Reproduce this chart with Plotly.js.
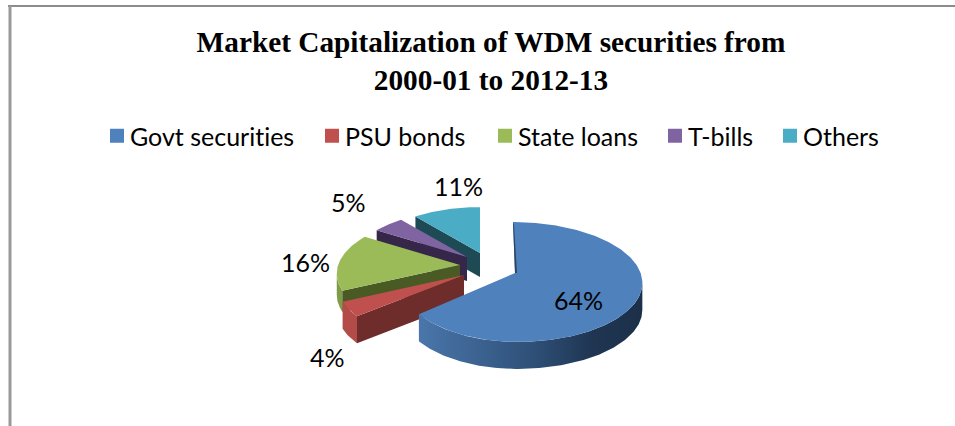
<!DOCTYPE html>
<html>
<head>
<meta charset="utf-8">
<script src="https://cdn.plot.ly/plotly-3.0.1.min.js"></script>
<style>
html,body{margin:0;padding:0;background:#fff;overflow:hidden}
text{font-variant-ligatures:none !important;font-feature-settings:"liga" 0,"clig" 0 !important}
</style>
</head>
<body>
<div id="chart" style="width:955px;height:426px"></div>
<script>
// Market capitalization shares, in percent
const categories = ["Govt securities", "PSU bonds", "State loans", "T-bills", "Others"];
const shares = [64, 4, 16, 5, 11];

const topColors = ["#4F81BD", "#C0504D", "#9BBB59", "#8064A2", "#4BACC6"];
const edgeColors = ["#2A4466", "#6E2C2A", "#4A5A25", "#35264A", "#1E4A55"];
const rimColors = ["#3B5F8C", "#B34B48", "#7F9A48", "#6A5386", "#3C8CA2"];

// Exploded-slice geometry, in pixels of the 955x426 canvas
const tipX = [515, 464, 460, 467, 480];
const tipY = [273, 275, 265, 257, 253];
const sliceScale = [1, 1, 0.97, 0.92, 0.9];
const leftScale = [0.91, 1, 1, 1, 1];
const sliceLean = [2, 0, 0, 0, 0];
const sliceDepth = [27, 27, 21, 24, 24];
const RX = 125.6, RY = 58.6, PERSP = 0.15;

const labelX = [578, 327, 305, 348, 458];
const labelY = [300, 357, 262, 202, 186];
const legendSwatchX = [110, 325, 498, 668, 783];

const FONT = "Lato, 'Open Sans', sans-serif";
const LABEL_SIZE = 25;

// Perspective projection of a rim point at a clockwise angle from the top
function rim(i, deg) {
  const a = deg * Math.PI / 180, p = 1 / (1 + PERSP * Math.cos(a)), s = sliceScale[i];
  const sx = Math.sin(a) < 0 ? leftScale[i] : 1;
  return [tipX[i] + s * sx * RX * Math.sin(a) * p - sliceLean[i] * Math.cos(a),
          tipY[i] - s * RY * Math.cos(a) * p];
}
function arc(i, from, to) {
  const pts = [], n = Math.max(2, Math.ceil(Math.abs(to - from)));
  for (let k = 0; k <= n; k++) pts.push(rim(i, from + (to - from) * k / n));
  return pts;
}
function poly(pts, color, extra) {
  return Object.assign({
    type: "scatter", mode: "lines", x: pts.map(p => p[0]), y: pts.map(p => p[1]),
    fill: "toself", fillcolor: color, line: { width: 0 }, hoverinfo: "skip", showlegend: false
  }, extra || {});
}

// Slice boundaries follow from the shares
const starts = [];
shares.reduce((sum, v, i) => { starts[i] = sum * 3.6; return sum + v; }, 0);
const ends = starts.map((s, i) => s + shares[i] * 3.6);

const traces = [];
// Far slices first so that nearer ones cover them
[4, 3, 2, 1, 0].forEach(i => {
  const tip = [tipX[i], tipY[i]], d = sliceDepth[i], down = p => [p[0], p[1] + d];
  if (i !== 0) {
    const a = rim(i, starts[i]);
    traces.push(poly([tip, a, down(a), down(tip)], edgeColors[i]));
  }
  // The curved wall only faces the viewer on the lower part of the rim
  const frontFrom = Math.acos(-PERSP) * 180 / Math.PI, frontTo = 360 - frontFrom;
  const from = Math.max(starts[i], frontFrom), to = Math.min(ends[i], frontTo);
  if (to > from) {
    const top = arc(i, from, to);
    const wall = top.concat(top.slice().reverse().map(down));
    const extra = i === 0 ? {
      fillgradient: { type: "horizontal", colorscale: [[0, "#4A76AB"], [0.5, "#2F5179"], [0.78, "#1F3552"], [1, "#1C3049"]] }
    } : {};
    traces.push(poly(wall, rimColors[i], extra));
  }
  traces.push(poly([tip].concat(arc(i, starts[i], ends[i])), topColors[i]));
  if (i === 0) {
    const a = rim(0, 0);
    traces.push(poly([a, tip, [tip[0] + 2, tip[1]], [a[0] + 1, a[1] + 3]], edgeColors[0]));
  }
});

// One square swatch per legend entry
categories.forEach((name, i) => {
  traces.push({
    type: "scatter", mode: "markers", x: [null], y: [null], name: name,
    marker: { symbol: "square", size: 14, color: topColors[i] },
    legend: i === 0 ? "legend" : "legend" + (i + 1), hoverinfo: "skip", showlegend: true
  });
});

const layout = {
  width: 955, height: 426,
  margin: { l: 0, r: 0, t: 0, b: 0 },
  paper_bgcolor: "#fff", plot_bgcolor: "#fff",
  showlegend: true,
  title: {
    text: "Market Capitalization of WDM securities from<br>2000-01 to 2012-13",
    font: { family: "'Liberation Serif', serif", size: 29.3, color: "#000", weight: "bold" },
    x: 491 / 955, xanchor: "center", y: 1 - 52 / 426, yanchor: "top"
  },
  xaxis: { range: [0, 955], visible: false, fixedrange: true },
  yaxis: { range: [426, 0], visible: false, fixedrange: true },
  shapes: [
    { type: "line", xref: "paper", yref: "paper", x0: 8 / 955, x1: 1, y0: 1 - 6 / 426, y1: 1 - 6 / 426, line: { color: "#8C8C8C", width: 2 } },
    { type: "line", xref: "paper", yref: "paper", x0: 10 / 955, x1: 10 / 955, y0: 1 - 6 / 426, y1: 0, line: { color: "#999999", width: 3 } }
  ],
  annotations: shares.map((v, i) => ({
    text: v + "%", x: labelX[i], y: labelY[i], xref: "x", yref: "y", showarrow: false,
    xanchor: "center", yanchor: "middle", font: { family: FONT, size: LABEL_SIZE, color: "#000" }
  }))
};

legendSwatchX.forEach((px, i) => {
  layout[i === 0 ? "legend" : "legend" + (i + 1)] = {
    orientation: "h", x: (px - 20) / 955, xanchor: "left", y: 1 - 136 / 426, yanchor: "middle",
    bgcolor: "rgba(0,0,0,0)", borderwidth: 0, itemclick: false, itemdoubleclick: false,
    font: { family: FONT, size: LABEL_SIZE, color: "#000" }
  };
});

Plotly.newPlot("chart", traces, layout, { displayModeBar: false }).then(gd => {
  // Tighten the space between each swatch and its text
  gd.querySelectorAll(".legendsymbols").forEach(g => g.setAttribute("transform", "translate(7,0)"));
});
</script>
</body>
</html>
